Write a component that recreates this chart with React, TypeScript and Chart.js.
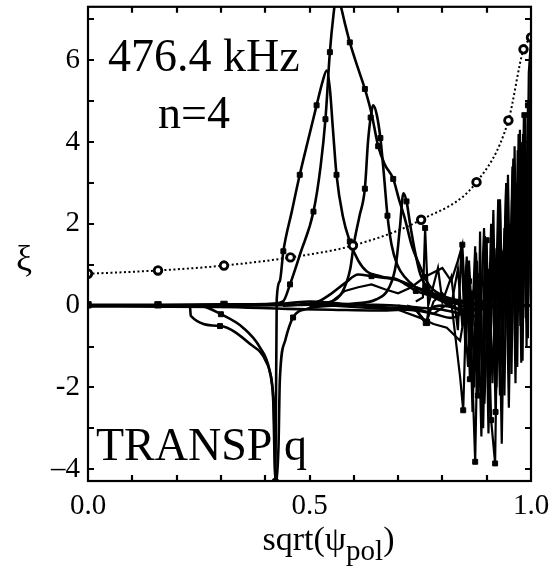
import React, { useEffect, useRef } from "react";
import { Chart, registerables } from "chart.js";

Chart.register(...registerables);

// ---- text ----
const freqLabel = "476.4 kHz";
const modeLabel = "n=4";
const qLabel = "TRANSP q";
const yTitle = "ξ";
const xTitleMain = "sqrt(ψ";
const xTitleSub = "pol";
const xTitleEnd = ")";

// ---- axes ----
const xMin = 0;
const xMax = 1;
const yMin = -4.29;
const yMax = 7.31;
const xTickLabels: Record<string, string> = { "0": "0.0", "0.5": "0.5", "1": "1.0" };
const yTickLabels: Record<string, string> = { "-4": "\u20134", "-2": "-2", "0": "0", "2": "2", "4": "4", "6": "6" };

// ---- series: [sqrt(psi_pol), xi] ----
const qProfile = [[0, 0.78], [0.158, 0.86], [0.307, 0.98], [0.457, 1.18], [0.598, 1.47], [0.752, 2.1], [0.877, 3.02], [0.949, 4.53], [0.983, 6.27], [1.0, 6.56]];

const peakA = [[0, 0], [0.158, 0], [0.23, 0.0], [0.232, -0.25], [0.298, -0.5], [0.366, -0.94], [0.403, -1.39], [0.414, -1.83], [0.42, -2.65], [0.423, -4.3], [0.426, 0.15], [0.433, 0.6], [0.441, 1.33], [0.46, 2.3], [0.478, 3.2], [0.498, 4.1], [0.516, 4.9], [0.53, 5.5], [0.539, 5.75], [0.546, 5.3], [0.553, 4.3], [0.561, 3.2], [0.575, 2.2], [0.591, 1.57], [0.61, 1.1], [0.629, 0.84], [0.66, 0.72], [0.7, 0.62], [0.74, 0.45], [0.78, 0.3], [0.82, 0.15], [0.87, 0.05], [0.92, 0], [1, 0]];

const peakB = [[0, 0], [0.158, 0.0], [0.307, 0.02], [0.4, 0.03], [0.44, 0.1], [0.456, 0.52], [0.48, 1.3], [0.509, 2.3], [0.525, 3.4], [0.536, 4.56], [0.546, 6.2], [0.554, 7.1], [0.561, 7.6], [0.57, 7.35], [0.58, 6.9], [0.591, 6.44], [0.61, 5.79], [0.625, 5.3], [0.64, 4.7], [0.655, 3.9], [0.67, 3.45], [0.689, 3.1], [0.702, 2.6], [0.716, 2.1], [0.73, 1.5], [0.748, 1.0], [0.77, 0.5], [0.8, 0.25], [0.85, 0.1], [0.9, 0.02], [1, 0]];

const peakC = [[0, 0], [0.307, 0], [0.5, 0.02], [0.55, 0.1], [0.575, 0.35], [0.592, 0.9], [0.6, 1.5], [0.613, 2.2], [0.625, 2.86], [0.632, 4.0], [0.638, 4.6], [0.644, 4.9], [0.652, 4.66], [0.66, 4.1], [0.668, 3.2], [0.676, 2.2], [0.685, 1.5], [0.698, 1.0], [0.715, 0.7], [0.74, 0.45], [0.78, 0.25], [0.83, 0.1], [0.9, 0], [1, 0]];

const peakD = [[0.5, 0], [0.6, 0.05], [0.65, 0.15], [0.68, 0.45], [0.695, 1.0], [0.704, 1.9], [0.712, 2.75], [0.719, 2.55], [0.727, 2.0], [0.738, 1.33], [0.75, 0.77], [0.765, 0.45], [0.79, 0.2], [0.83, 0.05], [0.88, -0.1], [0.92, 0], [1, 0]];

const dipB = [[0, 0], [0.158, 0], [0.25, 0.0], [0.3, -0.21], [0.35, -0.54], [0.388, -1.02], [0.41, -1.6], [0.418, -2.3], [0.423, -4.3], [0.43, -3.46], [0.433, -1.83], [0.445, -0.86], [0.463, -0.29], [0.494, -0.08], [0.55, 0], [0.65, 0.02], [0.75, -0.05], [0.8, -0.1], [0.85, -0.2], [0.9, 0], [1, 0]];

const bumpE = [[0.44, 0], [0.5, 0.05], [0.52, 0.1], [0.55, 0.3], [0.58, 0.55], [0.61, 0.76], [0.64, 0.72], [0.67, 0.68], [0.69, 0.67], [0.72, 0.5], [0.74, 0.36], [0.77, 0.25], [0.8, 0.1], [0.83, -0.05], [0.86, -0.3], [0.88, -0.2], [0.9, 0], [1, 0]];

const zeroA = [[0, 0.02], [0.158, 0.02], [0.307, 0.03], [0.45, 0.06], [0.5, 0.1], [0.55, 0.07], [0.6, 0.02], [0.65, -0.03], [0.7, -0.06], [0.74, -0.12], [0.764, -0.41], [0.77, -0.1], [0.8, 0.0], [0.85, -0.1], [0.9, 0], [1, 0]];
const zeroB = [[0, -0.02], [0.3, -0.03], [0.45, -0.08], [0.55, -0.1], [0.65, -0.12], [0.72, -0.1], [0.78, -0.2], [0.82, -0.3], [0.86, -0.1], [1, 0]];

const oscR = [[0.70, 0], [0.74, -0.1], [0.764, -0.41], [0.78, 0.1], [0.8, 0.3], [0.82, 0.0], [0.835, 0.9], [0.845, -0.5], [0.855, 1.2], [0.862, -1.8], [0.874, 1.45], [0.88, -2.2], [0.885, 1.81], [0.892, -3.0], [0.9, 1.6], [0.906, -2.4], [0.915, 2.34], [0.922, -2.0], [0.93, 2.6], [0.936, -1.5], [0.944, 3.0], [0.95, -1.2], [0.958, 3.4], [0.964, -0.8], [0.97, 3.8], [0.976, -0.5], [0.982, 4.2], [0.988, -0.3], [0.994, 4.6], [1.0, 0]];
const oscO = [[0.72, 0], [0.78, -0.2], [0.82, 0.1], [0.84, -1.75], [0.847, -2.56], [0.855, 0.5], [0.866, -1.2], [0.874, -3.82], [0.882, 0.8], [0.89, -2.0], [0.9, 1.3], [0.91, -2.8], [0.919, -3.86], [0.926, 1.5], [0.934, -3.38], [0.942, 2.2], [0.95, -2.5], [0.958, 2.8], [0.965, -1.9], [0.972, 3.6], [0.978, -1.4], [0.985, 4.4], [0.99, -1.0], [0.995, 5.0], [1.0, 0.2]];
const oscS = [[0.74, 0.1], [0.756, 0.2], [0.761, 1.9], [0.768, 0.0], [0.79, 0.92], [0.8, 0.1], [0.82, 0.7], [0.835, -0.6], [0.843, 1.49], [0.852, -1.1], [0.86, 0.6], [0.868, -2.6], [0.878, 1.1], [0.888, -3.2], [0.896, 1.7], [0.904, -3.13], [0.912, 1.9], [0.92, -2.6], [0.93, 2.5], [0.94, -2.2], [0.948, 3.2], [0.956, -1.67], [0.963, 3.9], [0.969, -1.5], [0.975, 4.3], [0.981, -1.35], [0.987, 4.7], [0.993, -0.8], [0.997, 4.9], [1.0, 0.5]];
const oscT = [[0.5, 0], [0.55, 0.1], [0.58, 0.36], [0.61, 0.45], [0.64, 0.52], [0.67, 0.4], [0.7, 0.3], [0.73, 0.45], [0.76, 0.7], [0.8, 0.92], [0.82, 0.6], [0.835, 1.1], [0.845, 1.49], [0.852, 0.0], [0.86, 1.1], [0.868, -0.5], [0.876, 1.3], [0.884, -1.0], [0.894, 1.9], [0.902, -1.4], [0.91, 2.0], [0.918, -1.1], [0.926, 2.6], [0.934, -0.9], [0.944, 3.0], [0.952, -0.6], [0.96, 3.6], [0.966, -0.4], [0.972, 4.2], [0.978, 0.0], [0.984, 4.7], [0.99, 1.0], [0.995, 5.7], [1.0, 6.5]];
const oscU = [[0.55, 0], [0.62, -0.05], [0.7, -0.1], [0.75, -0.3], [0.78, -0.45], [0.81, -0.54], [0.84, -0.86], [0.85, -0.2], [0.858, -1.5], [0.866, 0.3], [0.872, -2.0], [0.88, 0.5], [0.895, -2.4], [0.905, 0.9], [0.913, -1.9], [0.922, 1.4], [0.93, -2.2], [0.94, 1.9], [0.95, -1.4], [0.957, 2.6], [0.966, -1.1], [0.973, 3.3], [0.979, -0.9], [0.984, 3.9], [0.99, -0.4], [0.995, 4.2], [1.0, 0.0]];
const oscV = [[0.88, 0], [0.92, 0.4], [0.935, 1.2], [0.942, 0.0], [0.952, 2.0], [0.958, 0.3], [0.966, 3.0], [0.971, 0.6], [0.977, 4.0], [0.981, 0.8], [0.985, 4.66], [0.989, 1.2], [0.993, 4.9], [0.996, 2.0], [0.999, 5.7], [1.0, 6.5]];

// which points of each series carry a small marker (style only)
const smoothSeries = [
  { data: peakA, marks: [4, 9, 12, 14, 16, 21, 23] },
  { data: peakB, marks: [5, 7, 9, 10, 15, 17, 19, 21] },
  { data: peakC, marks: [6, 8, 10, 13, 15] },
  { data: peakD, marks: [7, 11] },
  { data: dipB, marks: [3, 8, 12] },
  { data: bumpE, marks: [6, 10] },
  { data: zeroA, marks: [0, 1, 2, 10] },
  { data: zeroB, marks: [] as number[] },
];
const jaggedSeries = [
  { data: oscR, marks: [2, 9, 11, 14] },
  { data: oscO, marks: [4, 7, 11, 12] },
  { data: oscS, marks: [2, 10, 17] },
  { data: oscT, marks: [8, 12] },
  { data: oscU, marks: [9] },
  { data: oscV, marks: [10, 12] },
];

const toXY = (arr: number[][]) => arr.map(([x, y]) => ({ x, y }));
const keyOf = (v: number) => String(Math.round(v * 10) / 10);
const radii = (n: number, marks: number[], r: number) => Array.from({ length: n }, (_, i) => (marks.includes(i) ? r : 0));

const SERIF = "'Liberation Serif', 'Times New Roman', serif";

const framePlugin = {
  id: "frameAndText",
  afterDatasetsDraw(chart: any) {
    const { ctx, chartArea: a, scales } = chart;
    const xs = scales.x;
    const ys = scales.y;
    ctx.save();
    ctx.strokeStyle = "#000";
    ctx.lineWidth = 2.2;
    ctx.strokeRect(a.left, a.top, a.right - a.left, a.bottom - a.top);
    const L = 6;
    ctx.beginPath();
    xs.ticks.forEach((t: any) => {
      const p = Math.round(xs.getPixelForValue(t.value));
      if (p <= a.left + 2 || p >= a.right - 2) return;
      ctx.moveTo(p, a.bottom);
      ctx.lineTo(p, a.bottom - L);
      ctx.moveTo(p, a.top);
      ctx.lineTo(p, a.top + L);
    });
    ys.ticks.forEach((t: any) => {
      const p = Math.round(ys.getPixelForValue(t.value));
      if (p <= a.top + 2 || p >= a.bottom - 2) return;
      ctx.moveTo(a.left, p);
      ctx.lineTo(a.left + L, p);
      ctx.moveTo(a.right, p);
      ctx.lineTo(a.right - L, p);
    });
    ctx.stroke();

    ctx.fillStyle = "#000";
    ctx.textAlign = "left";
    ctx.textBaseline = "alphabetic";
    ctx.font = `46px ${SERIF}`;
    ctx.fillText(freqLabel, a.left + 20, a.top + 64);
    ctx.fillText(modeLabel, a.left + 70, a.top + 121);
    ctx.fillText(qLabel, a.left + 8, a.bottom - 21);

    ctx.font = `36px ${SERIF}`;
    ctx.textAlign = "center";
    ctx.fillText(yTitle, 24, (a.top + a.bottom) / 2 + 26);

    // x title with subscript
    const mainFont = `34px ${SERIF}`;
    const subFont = `29px ${SERIF}`;
    ctx.font = mainFont;
    const w1 = ctx.measureText(xTitleMain).width;
    const w3 = ctx.measureText(xTitleEnd).width;
    ctx.font = subFont;
    const w2 = ctx.measureText(xTitleSub).width;
    const total = w1 + w2 + w3;
    const x0 = (a.left + a.right) / 2 + 19 - total / 2;
    const base = a.bottom + 69;
    ctx.textAlign = "left";
    ctx.font = mainFont;
    ctx.fillText(xTitleMain, x0, base);
    ctx.font = subFont;
    ctx.fillText(xTitleSub, x0 + w1, base + 10);
    ctx.font = mainFont;
    ctx.fillText(xTitleEnd, x0 + w1 + w2, base);
    ctx.restore();
  },
};

export default function App() {
  const ref = useRef<HTMLCanvasElement | null>(null);
  useEffect(() => {
    if (!ref.current) return;
    const datasets: any[] = [];
    datasets.push({
      data: toXY(qProfile),
      borderColor: "#000",
      borderWidth: 2,
      borderDash: [2, 2.5],
      cubicInterpolationMode: "monotone",
      pointRadius: 3.8,
      pointBackgroundColor: "#fff",
      pointBorderColor: "#000",
      pointBorderWidth: 2.8,
      clip: 0,
    });
    smoothSeries.forEach((s) =>
      datasets.push({
        data: toXY(s.data),
        borderColor: "#000",
        borderWidth: 2.6,
        cubicInterpolationMode: "monotone",
        pointRadius: radii(s.data.length, s.marks, s.data === zeroA ? 4.5 : 3.5),
        pointStyle: "rect",
        pointBackgroundColor: "#000",
        pointBorderColor: "#000",
        pointBorderWidth: 1,
        clip: 0,
      })
    );
    jaggedSeries.forEach((s) =>
      datasets.push({
        data: toXY(s.data),
        borderColor: "#000",
        borderWidth: 2.2,
        tension: 0,
        pointRadius: radii(s.data.length, s.marks, 3.5),
        pointStyle: "rect",
        pointBackgroundColor: "#000",
        pointBorderColor: "#000",
        pointBorderWidth: 1,
        clip: 0,
      })
    );
    const chart = new Chart(ref.current, {
      type: "line",
      data: { datasets },
      options: {
        animation: false,
        responsive: false,
        devicePixelRatio: 1,
        layout: { padding: { top: 4, right: 29, left: 0, bottom: 0 } },
        plugins: { legend: { display: false }, tooltip: { enabled: false } },
        scales: {
          x: {
            type: "linear",
            min: xMin,
            max: xMax,
            grid: { display: false, drawTicks: false },
            border: { display: false },
            ticks: {
              stepSize: 0.1,
              autoSkip: false,
              maxRotation: 0,
              includeBounds: false,
              padding: 8,
              color: "#000",
              font: { family: SERIF, size: 29 },
              callback: (v: any) => xTickLabels[keyOf(Number(v))] ?? "",
            },
            afterFit: (s: any) => {
              s.height = 98;
            },
          },
          y: {
            type: "linear",
            min: yMin,
            max: yMax,
            grid: { display: false, drawTicks: false },
            border: { display: false },
            ticks: {
              stepSize: 1,
              autoSkip: false,
              includeBounds: false,
              padding: 8,
              color: "#000",
              font: { family: SERIF, size: 29 },
              callback: (v: any) => yTickLabels[keyOf(Number(v))] ?? "",
            },
            afterFit: (s: any) => {
              s.width = 88;
              s.paddingTop = 0;
              s.paddingBottom = 0;
            },
          },
        },
      },
      plugins: [framePlugin],
    });
    return () => chart.destroy();
  }, []);
  return (
    <div style={{ position: "fixed", left: 0, top: 0, width: 560, height: 579, background: "#fff" }}>
      <canvas ref={ref} width={560} height={579} style={{ display: "block" }} />
    </div>
  );
}
